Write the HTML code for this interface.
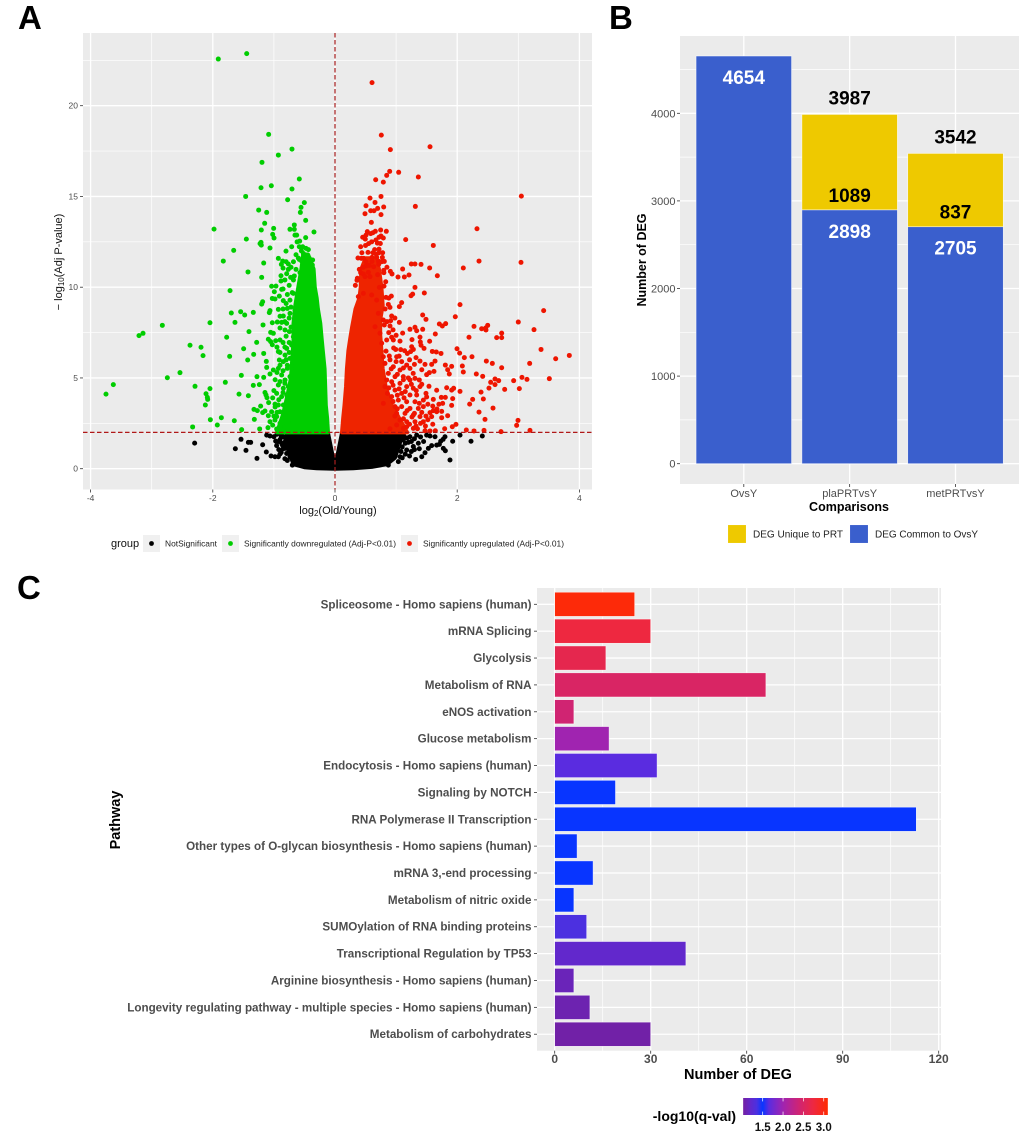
<!DOCTYPE html>
<html lang="en">
<head>
<meta charset="utf-8">
<title>Differential expression figure</title>
<style>
html,body{margin:0;padding:0;background:#fff;}
svg{display:block;font-family:"Liberation Sans",Arial,sans-serif;}
</style>
</head>
<body>
<svg id="fig" xmlns="http://www.w3.org/2000/svg" width="1020" height="1137" viewBox="0 0 1020 1137">
  <rect x="0" y="0" width="1020" height="1137" fill="#fff"/>
  <text x="18" y="29" font-size="33" font-weight="700">A</text>
  <text x="609" y="29" font-size="33" font-weight="700">B</text>
  <text x="17" y="599" font-size="33" font-weight="700">C</text>

  <g id="panelA"></g>
  <text x="338" y="514" font-size="11" text-anchor="middle" fill="#111">log<tspan font-size="8" dy="2">2</tspan><tspan dy="-2">(Old/Young)</tspan></text>
  <text transform="translate(62,262) rotate(-90)" font-size="11" text-anchor="middle" fill="#111">− log<tspan font-size="8" dy="2">10</tspan><tspan dy="-2">(Adj P-value)</tspan></text>

  <g>
    <text x="111" y="547" font-size="11" fill="#111">group</text>
    <rect x="143" y="535" width="17" height="17" fill="#f0f0f0"/>
    <circle cx="151.5" cy="543.5" r="2.4" fill="#000"/>
    <text x="165" y="546.5" font-size="8.4" textLength="52" fill="#222">NotSignificant</text>
    <rect x="222" y="535" width="17" height="17" fill="#f0f0f0"/>
    <circle cx="230.5" cy="543.5" r="2.4" fill="#00cd00"/>
    <text x="244" y="546.5" font-size="8.4" textLength="152" fill="#222">Significantly downregulated (Adj-P&lt;0.01)</text>
    <rect x="401" y="535" width="17" height="17" fill="#f0f0f0"/>
    <circle cx="409.5" cy="543.5" r="2.4" fill="#ee1500"/>
    <text x="423" y="546.5" font-size="8.4" textLength="141" fill="#222">Significantly upregulated (Adj-P&lt;0.01)</text>
  </g>

  <g id="panelB"></g>
  <text x="849" y="511" font-size="12.5" font-weight="700" text-anchor="middle">Comparisons</text>
  <text transform="translate(646,260) rotate(-90)" font-size="12.5" font-weight="700" text-anchor="middle">Number of DEG</text>
  <g>
    <rect x="727.7" y="524.7" width="18.6" height="18.6" fill="#eec900" stroke="#fff" stroke-width="0.7"/>
    <text x="753" y="537.7" font-size="10" textLength="90" fill="#222">DEG Unique to PRT</text>
    <rect x="849.7" y="524.7" width="18.6" height="18.6" fill="#3a5fcd" stroke="#fff" stroke-width="0.7"/>
    <text x="875" y="537.7" font-size="10" textLength="103" fill="#222">DEG Common to OvsY</text>
  </g>

  <g id="panelC"></g>
  <text x="738" y="1079" font-size="14.5" font-weight="700" text-anchor="middle">Number of DEG</text>
  <text transform="translate(120,820) rotate(-90)" font-size="14.5" font-weight="700" text-anchor="middle">Pathway</text>
  <text x="736" y="1121" font-size="14" font-weight="700" text-anchor="end">-log10(q-val)</text>
  <g id="colorbar"></g>
</svg>

<script>
// ---------- Panel A data (log2 fold change, -log10 adj P) ----------
const downPoints = [
[-1.91,22.57],[-1.445,22.87],[-1.086,18.42],[-0.704,17.61],[-0.927,17.28],[-1.195,16.88],[-0.584,15.96],[-1.042,15.59],[-1.211,15.48],[-0.704,15.41],[-1.462,15.0],[-0.775,14.82],[-0.502,14.66],[-0.556,14.4],[-1.249,14.25],[-1.118,14.12],[-0.567,14.12],[-0.48,13.68],[-1.151,13.52],[-0.666,13.43],[-1.98,13.2],[-1.206,13.15],[-1.004,13.24],[-0.737,13.19],[-0.666,13.19],[-0.344,13.04],[-1.02,12.91],[-0.655,12.87],[-0.627,12.87],[-0.998,12.71],[-0.48,12.73],[-1.451,12.65],[-0.578,12.54],[-1.211,12.47],[-1.227,12.4],[-1.206,12.32],[-0.709,12.23],[-0.584,12.23],[-1.064,12.16],[-0.529,12.23],[-0.475,12.14],[-0.436,12.07],[-1.658,12.03],[-0.802,11.99],[-0.638,11.79],[-0.518,11.86],[-1.828,11.44],[-0.927,11.59],[-0.856,11.44],[-1.167,11.33],[-0.878,11.26],[-0.764,11.28],[-0.584,11.53],[-0.518,11.68],[-0.42,11.59],[-0.366,11.5],[-0.436,11.31],[-0.371,11.22],[-0.546,11.44],[-0.638,10.98],[-0.764,10.98],[-1.424,10.84],[-0.791,10.74],[-0.573,10.8],[-0.491,10.76],[-0.436,10.8],[-0.371,10.91],[-0.884,10.63],[-1.2,10.54],[-0.666,10.62],[-0.726,10.54],[-0.382,10.58],
[-1.718,9.81],[-1.037,10.05],[-0.966,10.06],[-0.884,10.34],[-0.993,9.75],[-0.873,9.88],[-1.026,9.38],[-0.982,9.35],[-0.911,9.51],[-0.846,9.26],[-1.184,9.2],[-1.2,9.07],[-0.927,8.78],[-1.064,8.71],[-1.075,8.6],[-1.544,8.65],[-1.697,8.58],[-1.478,8.47],[-1.337,8.61],[-0.846,8.41],[-1.637,8.06],[-2.046,8.04],[-1.026,8.04],[-0.944,8.08],[-0.873,8.06],[-1.178,7.92],[-2.826,7.9],[-3.142,7.46],[-3.208,7.33],[-1.408,7.55],[-1.053,7.51],[-1.009,7.46],[-1.773,7.24],[-1.091,7.13],[-1.053,7.0],[-1.282,6.96],[-0.971,7.05],[-0.9,7.09],[-2.373,6.8],[-2.193,6.69],[-1.026,6.83],[-1.495,6.61],[-2.16,6.23],[-1.724,6.19],[-1.331,6.3],[-1.167,6.35],[-1.429,5.99],[-1.124,5.91],[-1.118,5.58],[-0.927,6.45],[-0.911,5.99],[-2.537,5.29],[-2.744,5.01],[-1.533,5.14],[-1.277,5.07],[-1.167,5.03],[-1.009,5.44],[-1.064,5.22],[-3.628,4.63],[-3.748,4.11],[-1.795,4.76],[-2.291,4.54],[-2.046,4.41],[-1.337,4.59],[-1.238,4.63],[-2.111,4.13],[-2.089,3.93],[-2.084,3.82],[-2.122,3.51],[-1.571,4.11],[-1.418,4.02],[-1.146,4.2],[-1.129,4.06],[-1.113,3.91],[-1.086,3.64],[-1.217,3.45],[-1.326,3.27],[-1.271,3.2],[-1.184,3.09],[-1.146,3.18],[-1.86,2.81],[-2.04,2.7],[-1.32,2.72],[-1.648,2.64],[-1.091,2.92],[-1.037,3.14],[-1.064,2.59],[-1.926,2.41],[-2.33,2.3],[-1.528,2.15],[-1.233,2.19],[-1.097,2.26],[-0.955,2.19],[-0.818,2.31],
[-0.791,8.01],[-0.818,7.64],[-0.747,7.55],[-0.682,7.27],[-0.709,6.81],[-0.791,6.63],[-0.818,6.26],[-0.737,6.08],[-0.682,6.35],[-0.846,5.9],[-0.78,5.53],[-0.709,5.66],[-0.927,5.53],[-0.873,5.16],[-0.818,4.89],[-0.737,5.07],[-0.682,4.79],[-0.927,4.61],[-0.846,4.43],[-0.764,4.52],[-0.682,4.24],[-0.955,4.15],[-0.873,3.97],[-0.791,4.06],[-0.709,3.78],[-0.846,3.51],[-0.927,3.51],[-0.764,3.42],[-0.682,3.32],[-0.982,3.56],[-0.9,3.14],[-0.818,3.14],[-0.737,2.96],[-0.955,2.87],[-0.846,2.68],[-0.764,2.59],[-0.9,2.5],[-0.682,2.5],[-0.982,2.68],[-0.791,2.31],
[-0.737,9.29],[-0.682,9.66],[-0.655,8.74],[-0.737,8.56],[-0.78,8.83],
[-0.62,12.5],[-0.55,12.0],[-0.6,11.6],[-0.68,11.4],[-0.72,11.1],[-0.8,11.4],[-0.85,11.05],[-0.82,10.4],[-0.75,10.1],[-0.68,10.4],[-0.7,9.7],[-0.78,9.6],[-0.85,9.9],[-0.8,9.1],[-0.72,8.9],[-0.85,8.8],[-0.9,8.4],[-0.75,8.3],[-0.82,8.1],[-0.72,7.8],[-0.9,7.75],[-0.8,7.3],[-0.75,6.95],[-0.85,6.95],[-0.95,6.7],[-0.82,6.7],[-0.9,6.4],[-0.75,6.4],[-0.8,6.0],[-0.9,5.7],[-0.78,5.7],[-0.85,5.4],[-0.95,5.3],[-0.98,4.9],[-0.9,4.8],[-0.82,4.7],[-0.85,4.2],[-1.0,4.3],[-1.02,3.9],[-0.92,3.8],[-0.98,3.4],[-1.0,2.9],[-0.95,3.1],[-0.9,2.3],[-1.02,2.4]
];
const upPoints = [
[0.606,21.27],[0.758,18.38],[0.906,17.58],[1.555,17.74],[0.895,16.38],[1.042,16.33],[0.846,16.16],[1.364,16.07],[0.666,15.92],[0.791,15.79],[0.753,15.0],[3.05,15.02],[0.573,14.91],[0.655,14.67],[0.507,14.49],[0.797,14.42],[1.315,14.45],[0.698,14.34],[0.584,14.21],[0.638,14.21],[0.491,14.05],[0.753,14.0],[0.595,13.57],[2.324,13.22],[0.747,13.15],[0.66,13.08],[0.84,13.08],[0.529,13.06],[0.584,12.95],[0.507,12.87],[0.453,12.75],[0.496,12.65],[0.753,12.82],[0.791,12.71],[1.157,12.62],[0.693,12.43],[0.742,12.41],[1.609,12.3],[0.42,12.23],[0.649,12.07],[0.54,11.92],[0.676,11.81],[0.376,11.61],[0.431,11.59],[0.469,11.59],[0.606,11.64],[0.682,11.64],[0.775,11.64],[2.357,11.44],[3.044,11.37],[0.507,11.4],[0.606,11.42],[0.709,11.44],[0.764,11.4],[0.807,11.42],[1.249,11.28],[1.309,11.28],[1.408,11.26],[0.507,11.17],[0.633,11.13],[0.715,11.26],[1.549,11.06],[2.1,11.06],[0.398,10.98],[0.797,10.93],[1.107,11.0],[0.906,10.87],[0.933,10.73],[0.42,10.8],[0.464,10.73],[0.546,10.82],[0.698,10.69],[1.211,10.67],[1.675,10.63],[1.031,10.56],[1.135,10.56],[0.366,10.49],[0.491,10.58],[0.573,10.58],
[1.309,9.99],[1.462,9.68],[1.271,9.62],[1.244,9.53],[0.835,9.44],[0.922,9.51],[0.333,10.1],[0.36,10.38],[0.726,9.99],[0.802,10.06],[2.046,9.04],[1.091,9.15],[1.053,8.93],[0.873,9.05],[0.9,8.89],[3.415,8.71],[1.435,8.47],[1.969,8.37],[1.489,8.23],[0.927,8.41],[0.911,8.15],[3.0,8.08],[1.708,7.97],[1.757,7.86],[1.811,7.99],[2.275,7.84],[1.053,8.06],[0.807,7.92],[0.9,7.86],[1.309,7.79],[1.337,7.6],[1.227,7.68],[1.435,7.68],[3.257,7.66],[2.499,7.9],[2.466,7.75],[2.4,7.71],[2.471,7.64],[2.728,7.47],[1.107,7.47],[1.642,7.42],[2.193,7.24],[2.646,7.22],[2.728,7.22],[1.26,7.11],[1.549,7.02],[1.391,7.25],[1.397,6.98],[1.408,6.8],[1.457,6.63],[0.955,7.09],[0.927,7.24],[1.064,7.03],[1.255,6.72],[1.282,6.57],[1.238,6.45],[1.184,6.35],[3.372,6.57],[1.997,6.61],[2.04,6.37],[1.593,6.46],[1.658,6.43],[1.735,6.35],[2.117,6.12],[2.242,6.17],[3.612,6.06],[3.835,6.24],[1.075,6.56],[0.993,6.57],[0.835,6.48],[0.889,6.21],[1.326,6.12],[1.391,5.93],[1.473,5.75],[1.582,5.75],[1.637,5.93],[2.477,5.93],[2.575,5.8],[3.186,5.8],[1.806,5.71],[1.909,5.64],[2.084,5.66],[2.728,5.56],[1.844,5.45],[1.62,5.36],[1.544,5.29],[1.5,5.18],[1.871,5.22],[2.1,5.33],[2.313,5.22],[2.417,5.09],[3.06,5.03],[2.924,4.85],[3.142,4.92],[3.508,4.96],[2.619,4.94],[2.679,4.85],[2.548,4.76],[2.619,4.63],[2.52,4.44],[2.777,4.37],[3.017,4.41],[2.39,4.22],[2.046,4.26],[1.942,4.43],[1.909,4.33],[1.828,4.46],[1.664,4.32],[1.538,4.54],[1.309,4.98],[1.38,4.89],[1.227,4.89],[1.391,4.52],[1.489,4.15],[1.74,3.93],[1.806,3.93],[1.926,3.86],[2.253,3.82],[2.428,3.84],[1.609,3.82],[1.446,3.78],[1.762,3.6],[1.909,3.49],[2.204,3.56],[2.586,3.34],[1.669,3.29],[1.609,3.2],[1.555,3.09],[1.489,2.9],[2.357,3.12],[1.746,3.16],[1.844,2.92],[2.455,2.72],[2.995,2.66],[2.973,2.39],[1.746,2.81],[1.98,2.44],[1.92,2.31],[1.795,2.2],[2.149,2.13],[2.275,2.08],[2.439,2.11],[2.717,2.04],[3.191,2.11],[1.473,2.09],[1.555,2.08],[1.642,2.09],[1.326,2.35],[1.173,2.31],[1.282,2.22],
[1.009,6.17],[1.091,5.9],[1.173,5.71],[0.955,5.62],[1.064,5.44],[1.227,5.53],[0.873,5.25],[0.982,5.07],[1.118,5.07],[0.927,4.79],[1.064,4.7],[1.173,4.52],[1.282,4.43],[0.982,4.33],[1.091,4.15],[1.227,4.06],[1.337,4.06],[0.927,3.97],[1.036,3.78],[1.173,3.69],[1.309,3.69],[0.982,3.42],[1.091,3.42],[1.227,3.32],[1.364,3.32],[1.446,3.42],[1.009,3.05],[1.146,3.05],[1.282,2.96],[1.391,2.87],[1.064,2.68],[1.173,2.59],[1.309,2.59],[1.446,2.59],[1.582,2.87],[1.664,3.14],[1.009,2.41],[1.118,2.22],[0.846,4.89],[0.818,4.52],[0.857,4.15],[0.791,3.6],[0.818,5.8],[0.791,6.17],[0.764,6.91],[0.846,7.09],[0.736,7.46],[0.791,8.19],[0.655,7.82],[0.709,8.56],[0.682,9.29],[0.6,9.57],[0.464,9.66],[0.382,9.48],
[0.9,2.2],[0.98,2.9],[1.02,3.3],[1.12,2.75],[1.22,2.45],[1.26,2.85],[1.35,2.2],[1.4,2.5],[1.48,2.35],[1.52,2.7],[1.6,2.45],[0.95,3.7],[1.02,4.05],[1.13,3.9],[1.18,3.2],[1.3,3.05],[1.42,3.1],[1.38,3.6],[1.52,3.55],[1.6,3.45],[1.7,3.55],[1.5,3.95],[1.33,4.3],[1.42,4.65],[1.25,4.65],[1.12,4.9],[1.02,5.2],[0.92,5.5],[0.88,4.45],[0.95,4.6],[1.05,4.4],[1.15,4.25],[1.2,5.0],[1.28,5.25],[1.12,5.55],[1.0,5.9],[0.9,6.0],[1.05,6.2],[0.96,6.65],[1.14,6.5],[1.22,6.0],[1.3,5.75],[1.42,5.45],[0.88,7.5],[0.95,7.65],[1.0,7.35],[0.85,8.1],[0.98,8.3],[0.82,8.8],[0.88,9.4],[0.83,10.3],[0.8,10.8],[0.85,11.1],[0.78,11.9],[0.72,12.1],[0.5,12.3],[0.55,12.4],[0.6,12.5],[0.44,11.9],[0.72,12.75],[0.62,13.0],[0.67,12.6],[0.56,11.2],[0.62,11.9],[0.72,11.9],[0.46,11.1]
];
const nsPoints = [
[-2.297,1.41],[-1.538,1.62],[-1.631,1.1],[-1.457,1.01],[-1.418,1.45],[-1.38,1.45],[-1.277,0.57],[-1.184,1.32],[-1.124,0.92],[-1.047,0.7],[-0.982,0.66],[-0.9,0.81],[-0.927,0.66],[-1.118,1.85],[-1.064,1.8],[-1.0,1.76],[-0.971,1.52],[-0.955,1.27],[-0.873,1.4],[-0.846,1.76],[-0.818,1.12],[-0.791,0.84],[-0.737,0.66],[-0.698,0.2],[-0.655,0.39],[-0.88,1.75],[-0.92,1.5],[-0.85,1.1],
[2.046,1.85],[2.411,1.8],[2.226,1.51],[1.926,1.51],[1.882,0.48],[1.8,1.76],[1.77,1.62],[1.73,1.51],[1.708,1.34],[1.773,1.12],[1.806,0.99],[1.664,1.3],[1.582,1.27],[1.528,1.12],[1.473,0.88],[1.42,0.66],[1.32,0.51],[1.5,1.85],[1.555,1.8],[1.637,1.76],[1.337,1.85],[1.227,1.76],[1.364,1.4],[1.282,1.22],[1.118,1.58],[1.173,1.03],[1.037,0.39],[0.873,0.2],[1.064,0.66],[1.2,1.45],[1.3,1.65],[1.1,1.2],[1.15,0.8],[1.25,0.95],[1.08,0.95],
[-0.95,1.9],[-0.88,1.9],[-0.9,1.6],[-0.86,1.3],[-0.92,1.05],[-0.88,0.9],[-0.82,0.55],[-0.78,0.45],[1.12,1.85],[1.18,1.7],[1.25,1.5],[1.15,1.4],[1.1,0.6],[1.05,1.9],[1.4,1.75],[1.45,1.5],[1.38,1.1],[1.3,1.05],[1.22,0.7],[1.12,1.8]
];
const downCloud = [[-0.95,2.0],[-0.85,3],[-0.78,4],[-0.72,5],[-0.7,6],[-0.68,7],[-0.68,8],[-0.65,9],[-0.6,10],[-0.55,11],[-0.52,11.8],[-0.44,11.8],[-0.35,11],[-0.33,10],[-0.3,9.4],[-0.28,8.8],[-0.24,8],[-0.22,7.2],[-0.2,6.5],[-0.17,5.5],[-0.16,4.5],[-0.15,3.5],[-0.13,2.8],[-0.115,2.0]];
const upCloud = [[0.115,2.0],[0.135,2.8],[0.155,3.5],[0.18,4.5],[0.195,5.5],[0.22,6.5],[0.25,7.2],[0.28,7.8],[0.335,8.8],[0.4,9.4],[0.42,10],[0.43,11],[0.5,11.6],[0.66,11.6],[0.72,11],[0.76,10],[0.78,9],[0.74,8.2],[0.74,7.4],[0.76,6.5],[0.78,5.5],[0.83,4.5],[0.93,3.5],[1.08,2.6],[1.18,2.0]];
const nsCloud = [[-0.115,1.97],[-0.78,1.97],[-0.82,1.5],[-0.74,0.8],[-0.68,0.25],[-0.5,0.08],[-0.3,0.02],[0,0],[0.3,0.02],[0.6,0.1],[0.85,0.25],[0.98,0.6],[1.02,1.0],[1.08,1.6],[1.08,1.97],[0.115,1.97],[0.015,0.3],[-0.015,0.3]];
const volcanoXTicks = [-4,-2,0,2,4];
const volcanoYTicks = [0,5,10,15,20];
const volcanoXMinor = [-3,-1,1,3];
const volcanoYMinor = [2.5,7.5,12.5,17.5,22.5];
const volcanoPThreshold = [2];
const volcanoFcThreshold = [0];

// ---------- Panel B data ----------
const comparisons = ['OvsY','plaPRTvsY','metPRTvsY'];
const commonDeg = [4654,2898,2705];
const uniqueDeg = [0,1089,837];
const totalDeg = [null,3987,3542];
const degYTicks = [0,1000,2000,3000,4000];
const degYMinor = [500,1500,2500,3500,4500];

// ---------- Panel C data ----------
const pathways = ['Spliceosome - Homo sapiens (human)','mRNA Splicing','Glycolysis','Metabolism of RNA','eNOS activation','Glucose metabolism','Endocytosis - Homo sapiens (human)','Signaling by NOTCH','RNA Polymerase II Transcription','Other types of O-glycan biosynthesis - Homo sapiens (human)','mRNA 3,-end processing','Metabolism of nitric oxide','SUMOylation of RNA binding proteins','Transcriptional Regulation by TP53','Arginine biosynthesis - Homo sapiens (human)','Longevity regulating pathway - multiple species - Homo sapiens (human)','Metabolism of carbohydrates'];
const pathwayDeg = [25,30,16,66,6,17,32,19,113,7,12,6,10,41,6,11,30];
const pathwayQ = [3.05,2.75,2.65,2.5,2.4,2.0,1.65,1.5,1.5,1.5,1.5,1.5,1.35,1.2,1.12,1.08,1.04];
const pathwayXTicks = [0,30,60,90,120];
const pathwayXMinor = [15,45,75,105];
const colorStopValues = [1.02,1.2,1.35,1.5,1.65,2.0,2.4,2.75,3.1];
const colorStopColors = ['#7320a2','#6228cc','#4c30e0','#0835ff','#5a2ce0','#a024b0','#d02472','#ee2840','#ff2a00'];
const colorLegendTicks = [1.5,2.0,2.5,3.0];

// ---------- helpers ----------
const NS = 'http://www.w3.org/2000/svg';
function mk(tag, attrs, parent, txt) {
  const el = document.createElementNS(NS, tag);
  for (const k in attrs) el.setAttribute(k, attrs[k]);
  if (txt !== undefined) el.textContent = txt;
  parent.appendChild(el);
  return el;
}
function mark(el, name) {
  
  
  return el;
}

// ---------- Panel A ----------
(function () {
  const g = document.getElementById('panelA');
  const box = {l: 83, r: 592, t: 33, b: 489.5};
  const X = v => 335 + v * 61.1;
  const Y = v => 468.7 - v * 18.15;
  mark(mk('rect', {x: box.l, y: box.t, width: box.r - box.l, height: box.b - box.t, fill: '#ebebeb'}, g), 'volcano-panel-background');
  volcanoXMinor.forEach(v => mark(mk('line', {x1: X(v), x2: X(v), y1: box.t, y2: box.b, stroke: '#fff', 'stroke-width': 0.7}, g), 'volcano-minor-gridline-x'));
  volcanoYMinor.forEach(v => mark(mk('line', {x1: box.l, x2: box.r, y1: Y(v), y2: Y(v), stroke: '#fff', 'stroke-width': 0.7}, g), 'volcano-minor-gridline-y'));
  volcanoXTicks.forEach(v => {
    mark(mk('line', {x1: X(v), x2: X(v), y1: box.t, y2: box.b, stroke: '#fff', 'stroke-width': 1.3}, g), 'volcano-gridline-x');
    mark(mk('line', {x1: X(v), x2: X(v), y1: box.b, y2: box.b + 3, stroke: '#333', 'stroke-width': 0.8}, g), 'volcano-tick-x');
    mark(mk('text', {x: X(v), y: box.b + 11.5, 'font-size': 8.5, 'text-anchor': 'middle', fill: '#4d4d4d'}, g, v === 0 ? '0' : String(v)), 'volcano-tick-label-x');
  });
  volcanoYTicks.forEach(v => {
    mark(mk('line', {x1: box.l, x2: box.r, y1: Y(v), y2: Y(v), stroke: '#fff', 'stroke-width': 1.3}, g), 'volcano-gridline-y');
    mark(mk('line', {x1: box.l - 3, x2: box.l, y1: Y(v), y2: Y(v), stroke: '#333', 'stroke-width': 0.8}, g), 'volcano-tick-y');
    mark(mk('text', {x: box.l - 5, y: Y(v) + 3, 'font-size': 8.5, 'text-anchor': 'end', fill: '#4d4d4d'}, g, String(v)), 'volcano-tick-label-y');
  });
  const poly = pts => pts.map(p => X(p[0]).toFixed(1) + ',' + Y(p[1]).toFixed(1)).join(' ');
  mark(mk('polygon', {points: poly(nsCloud), fill: '#000', stroke: '#000', 'stroke-width': 4, 'stroke-linejoin': 'round'}, g), 'not-significant-dense-cloud');
  nsPoints.forEach(p => mark(mk('circle', {cx: X(p[0]), cy: Y(p[1]), r: 2.5, fill: '#000'}, g), 'not-significant-point'));
  mark(mk('polygon', {points: poly(downCloud), fill: '#00cd00', stroke: '#00cd00', 'stroke-width': 4, 'stroke-linejoin': 'round'}, g), 'downregulated-dense-cloud');
  downPoints.forEach(p => mark(mk('circle', {cx: X(p[0]), cy: Y(p[1]), r: 2.5, fill: '#00cd00'}, g), 'downregulated-point'));
  mark(mk('polygon', {points: poly(upCloud), fill: '#ee2400', stroke: '#ee2400', 'stroke-width': 4, 'stroke-linejoin': 'round'}, g), 'upregulated-dense-cloud');
  upPoints.forEach(p => mark(mk('circle', {cx: X(p[0]), cy: Y(p[1]), r: 2.5, fill: '#ee1500'}, g), 'upregulated-point'));
  volcanoPThreshold.forEach(v => mark(mk('line', {x1: box.l, x2: box.r, y1: Y(v), y2: Y(v), stroke: '#b01818', 'stroke-width': 1.2, 'stroke-dasharray': '4.5 2.5'}, g), 'significance-threshold-line'));
  volcanoFcThreshold.forEach(v => mark(mk('line', {x1: X(v), x2: X(v), y1: box.t, y2: box.b, stroke: '#a82020', 'stroke-width': 1.2, 'stroke-dasharray': '4.5 2.5'}, g), 'zero-fold-change-line'));
})();

// ---------- Panel B ----------
(function () {
  const g = document.getElementById('panelB');
  const box = {l: 680, r: 1019, t: 36, b: 484};
  const Y = v => 463.7 - v * 0.0876;
  const X = i => 743.8 + i * 105.85;
  const w = 95.5;
  mark(mk('rect', {x: box.l, y: box.t, width: box.r - box.l, height: box.b - box.t, fill: '#ebebeb'}, g), 'deg-panel-background');
  degYMinor.forEach(v => mark(mk('line', {x1: box.l, x2: box.r, y1: Y(v), y2: Y(v), stroke: '#fff', 'stroke-width': 0.7}, g), 'deg-minor-gridline'));
  degYTicks.forEach(v => {
    mark(mk('line', {x1: box.l, x2: box.r, y1: Y(v), y2: Y(v), stroke: '#fff', 'stroke-width': 1.3}, g), 'deg-gridline-y');
    mark(mk('line', {x1: box.l - 3, x2: box.l, y1: Y(v), y2: Y(v), stroke: '#333', 'stroke-width': 0.8}, g), 'deg-tick-y');
    mark(mk('text', {x: box.l - 4.5, y: Y(v) + 4, 'font-size': 11, 'text-anchor': 'end', fill: '#4d4d4d'}, g, String(v)), 'deg-tick-label-y');
  });
  comparisons.forEach((c, i) => {
    mark(mk('line', {x1: X(i), x2: X(i), y1: box.t, y2: box.b, stroke: '#fff', 'stroke-width': 1.3}, g), 'deg-gridline-x');
    mark(mk('line', {x1: X(i), x2: X(i), y1: box.b, y2: box.b + 3, stroke: '#333', 'stroke-width': 0.8}, g), 'deg-tick-x');
    mark(mk('text', {x: X(i), y: 497, 'font-size': 11, 'text-anchor': 'middle', fill: '#4d4d4d'}, g, c), 'deg-tick-label-x');
    const common = commonDeg[i];
    const uniq = uniqueDeg[i];
    mark(mk('rect', {x: X(i) - w / 2, y: Y(common), width: w, height: Y(0) - Y(common), fill: '#3a5fcd', stroke: '#fff', 'stroke-width': 0.6, 'stroke-opacity': 0.8}, g), 'bar-common-' + c);
    if (uniq > 0) {
      mark(mk('rect', {x: X(i) - w / 2, y: Y(common + uniq), width: w, height: Y(common) - Y(common + uniq), fill: '#eec900', stroke: '#fff', 'stroke-width': 0.6, 'stroke-opacity': 0.8}, g), 'bar-unique-' + c);
      mark(mk('text', {x: X(i), y: Y(common) - 8, 'font-size': 19, 'font-weight': 700, 'text-anchor': 'middle', fill: '#000'}, g, String(uniq)), 'value-unique-' + c);
    }
    mark(mk('text', {x: X(i), y: Y(common) + 28, 'font-size': 19, 'font-weight': 700, 'text-anchor': 'middle', fill: '#fff'}, g, String(common)), 'value-common-' + c);
    if (totalDeg[i] !== null) {
      mark(mk('text', {x: X(i), y: Y(totalDeg[i]) - 10, 'font-size': 19, 'font-weight': 700, 'text-anchor': 'middle', fill: '#000'}, g, String(totalDeg[i])), 'value-total-' + c);
    }
  });
})();

// ---------- Panel C ----------
function hexToRgb(h) {
  return [parseInt(h.slice(1, 3), 16), parseInt(h.slice(3, 5), 16), parseInt(h.slice(5, 7), 16)];
}
function qColor(q) {
  const vs = colorStopValues;
  if (q <= vs[0]) return colorStopColors[0];
  for (let i = 1; i < vs.length; i++) {
    if (q <= vs[i]) {
      const t = (q - vs[i - 1]) / (vs[i] - vs[i - 1]);
      const a = hexToRgb(colorStopColors[i - 1]);
      const b = hexToRgb(colorStopColors[i]);
      return 'rgb(' + a.map((c, k) => Math.round(c + (b[k] - c) * t)).join(',') + ')';
    }
  }
  return colorStopColors[vs.length - 1];
}
(function () {
  const g = document.getElementById('panelC');
  const box = {l: 537, r: 941, t: 588, b: 1050.7};
  const X = v => 554.7 + v * 3.2;
  const Y = i => 604.3 + i * 26.87;
  const h = 24.2;
  mark(mk('rect', {x: box.l, y: box.t, width: box.r - box.l, height: box.b - box.t, fill: '#ebebeb'}, g), 'pathway-panel-background');
  pathwayXMinor.forEach(v => mark(mk('line', {x1: X(v), x2: X(v), y1: box.t, y2: box.b, stroke: '#fff', 'stroke-width': 0.7}, g), 'pathway-minor-gridline'));
  pathwayXTicks.forEach(v => {
    mark(mk('line', {x1: X(v), x2: X(v), y1: box.t, y2: box.b, stroke: '#fff', 'stroke-width': 1.3}, g), 'pathway-gridline-x');
    mark(mk('line', {x1: X(v), x2: X(v), y1: box.b, y2: box.b + 3, stroke: '#333', 'stroke-width': 0.8}, g), 'pathway-tick-x');
    mark(mk('text', {x: X(v), y: 1063, 'font-size': 12, 'font-weight': 700, 'text-anchor': 'middle', fill: '#4d4d4d'}, g, String(v)), 'pathway-tick-label-x');
  });
  pathways.forEach((p, i) => {
    mark(mk('line', {x1: box.l, x2: box.r, y1: Y(i), y2: Y(i), stroke: '#fff', 'stroke-width': 1.3}, g), 'pathway-gridline-y');
    mark(mk('line', {x1: box.l - 3, x2: box.l, y1: Y(i), y2: Y(i), stroke: '#333', 'stroke-width': 0.8}, g), 'pathway-tick-y');
    mark(mk('text', {x: 531.5, y: Y(i) + 4, 'font-size': 11.65, 'font-weight': 700, 'text-anchor': 'end', fill: '#4d4d4d'}, g, p), 'pathway-label');
    mark(mk('rect', {x: X(0), y: Y(i) - h / 2, width: X(pathwayDeg[i]) - X(0), height: h, fill: qColor(pathwayQ[i]), stroke: '#fff', 'stroke-width': 0.6, 'stroke-opacity': 0.8}, g), 'pathway-bar');
  });

  // colour legend
  const cb = document.getElementById('colorbar');
  const L = v => 762.7 + (v - 1.5) * 40.7;
  const defs = mk('defs', {}, cb);
  const grad = mk('linearGradient', {id: 'qGrad', x1: 0, x2: 1, y1: 0, y2: 0}, defs);
  const lo = colorStopValues[0];
  const hi = colorStopValues[colorStopValues.length - 1];
  colorStopValues.forEach((v, i) => {
    mk('stop', {offset: (v - lo) / (hi - lo), 'stop-color': colorStopColors[i]}, grad);
  });
  mark(mk('rect', {x: L(lo), y: 1098, width: L(hi) - L(lo), height: 17, fill: 'url(#qGrad)'}, cb), 'color-legend-bar');
  colorLegendTicks.forEach(v => {
    mark(mk('line', {x1: L(v), x2: L(v), y1: 1098, y2: 1101.4, stroke: '#fff', 'stroke-width': 0.7}, cb), 'color-legend-tick-top');
    mark(mk('line', {x1: L(v), x2: L(v), y1: 1111.6, y2: 1115, stroke: '#fff', 'stroke-width': 0.7}, cb), 'color-legend-tick-bottom');
    mark(mk('text', {x: L(v), y: 1131, 'font-size': 11.5, 'font-weight': 700, 'text-anchor': 'middle', fill: '#111'}, cb, v.toFixed(1)), 'color-legend-label');
  });
})();
</script>
</body>
</html>
